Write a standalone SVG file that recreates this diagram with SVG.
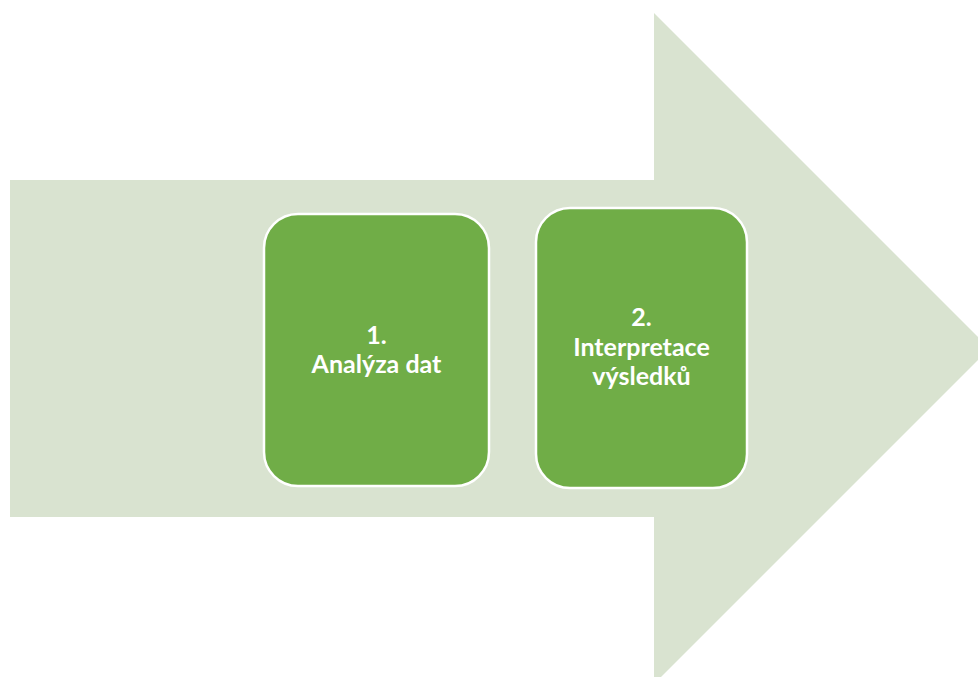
<svg xmlns="http://www.w3.org/2000/svg" width="978" height="677" viewBox="0 0 978 677">
  <style>
    .step { fill: #70ad47; stroke: #ffffff; stroke-width: 2.5; }
    .label { font-family: Lato, "Open Sans", "Liberation Sans", sans-serif; font-weight: bold; font-size: 25px; fill: #ffffff; text-anchor: middle; }
  </style>
  <rect width="978" height="677" fill="#ffffff"/>
  <!-- background process arrow -->
  <g id="arrow">
    <polygon points="10,180 654,180 654,13 989.5,348.5 654,684 654,517 10,517" fill="#d9e3d0"/>
  </g>
  <g id="connectors"></g>
  <g id="step1">
    <rect class="step" x="264" y="214" width="225" height="272" rx="34" ry="34"/>
    <text class="label" x="376.5" y="344">1.</text>
    <text class="label" x="376.5" y="373">Analýza dat</text>
  </g>
  <g id="step2">
    <rect class="step" x="536" y="208" width="211" height="280" rx="34" ry="34"/>
    <text class="label" x="641.5" y="326">2.</text>
    <text class="label" x="641.5" y="356">Interpretace</text>
    <text class="label" x="641.5" y="385">výsledků</text>
  </g>
</svg>
